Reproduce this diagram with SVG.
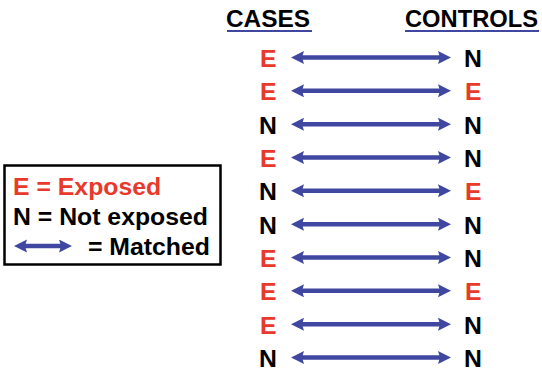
<svg xmlns="http://www.w3.org/2000/svg" width="542" height="376" viewBox="0 0 542 376">
<defs>
<style>
text{font-family:"Liberation Sans",Arial,sans-serif;font-weight:bold;font-size:24.8px;fill:#000}
.h{font-size:24px}
.e{fill:#e8392b}
.arr{stroke:#3f47a0;stroke-width:4.5;fill:none}
.ul{stroke:#3f47a0;stroke-width:2}
</style>
<marker id="ah" markerUnits="userSpaceOnUse" markerWidth="14" markerHeight="14" refX="6" refY="6.5" orient="auto-start-reverse" viewBox="0 0 14 14">
<path d="M0,0 L13,6.5 L0,13 L2,6.5 z" fill="#3f47a0"/>
</marker>
</defs>
<rect width="542" height="376" fill="#fff"/>
<g id="headers">
<text class="h" x="226" y="27" textLength="84" lengthAdjust="spacingAndGlyphs">CASES</text>
<line class="ul" x1="227" y1="31" x2="312" y2="31"/>
<text class="h" x="405" y="27" textLength="133" lengthAdjust="spacingAndGlyphs">CONTROLS</text>
<line class="ul" x1="405" y1="31" x2="539" y2="31"/>
</g>
<g id="legend">
<rect x="4.5" y="165.5" width="216" height="99" fill="#fff" stroke="#000" stroke-width="2.5"/>
<text class="e" x="13" y="195">E = Exposed</text>
<text x="13" y="225">N = Not exposed</text>
<line class="arr" x1="21" y1="246" x2="65" y2="246" marker-start="url(#ah)" marker-end="url(#ah)"/>
<text x="88" y="255">= Matched</text>
</g>
<g id="cases">
<text class="e" x="260" y="67">E</text>
<text class="e" x="260" y="100.3">E</text>
<text x="259" y="133.7">N</text>
<text class="e" x="260" y="167">E</text>
<text x="259" y="200.3">N</text>
<text x="259" y="233.7">N</text>
<text class="e" x="260" y="267">E</text>
<text class="e" x="260" y="300.3">E</text>
<text class="e" x="260" y="333.7">E</text>
<text x="259" y="367">N</text>
</g>
<g id="controls">
<text x="464" y="67">N</text>
<text class="e" x="465" y="100.3">E</text>
<text x="464" y="133.7">N</text>
<text x="464" y="167">N</text>
<text class="e" x="465" y="200.3">E</text>
<text x="464" y="233.7">N</text>
<text x="464" y="267">N</text>
<text class="e" x="465" y="300.3">E</text>
<text x="464" y="333.7">N</text>
<text x="464" y="367">N</text>
</g>
<g id="connectors">
<line class="arr" x1="298" y1="57.5" x2="444" y2="57.5" marker-start="url(#ah)" marker-end="url(#ah)"/>
<line class="arr" x1="298" y1="90.8" x2="444" y2="90.8" marker-start="url(#ah)" marker-end="url(#ah)"/>
<line class="arr" x1="298" y1="124.2" x2="444" y2="124.2" marker-start="url(#ah)" marker-end="url(#ah)"/>
<line class="arr" x1="298" y1="157.5" x2="444" y2="157.5" marker-start="url(#ah)" marker-end="url(#ah)"/>
<line class="arr" x1="298" y1="190.8" x2="444" y2="190.8" marker-start="url(#ah)" marker-end="url(#ah)"/>
<line class="arr" x1="298" y1="224.2" x2="444" y2="224.2" marker-start="url(#ah)" marker-end="url(#ah)"/>
<line class="arr" x1="298" y1="257.5" x2="444" y2="257.5" marker-start="url(#ah)" marker-end="url(#ah)"/>
<line class="arr" x1="298" y1="290.8" x2="444" y2="290.8" marker-start="url(#ah)" marker-end="url(#ah)"/>
<line class="arr" x1="298" y1="324.2" x2="444" y2="324.2" marker-start="url(#ah)" marker-end="url(#ah)"/>
<line class="arr" x1="298" y1="357.5" x2="444" y2="357.5" marker-start="url(#ah)" marker-end="url(#ah)"/>
</g>
</svg>
